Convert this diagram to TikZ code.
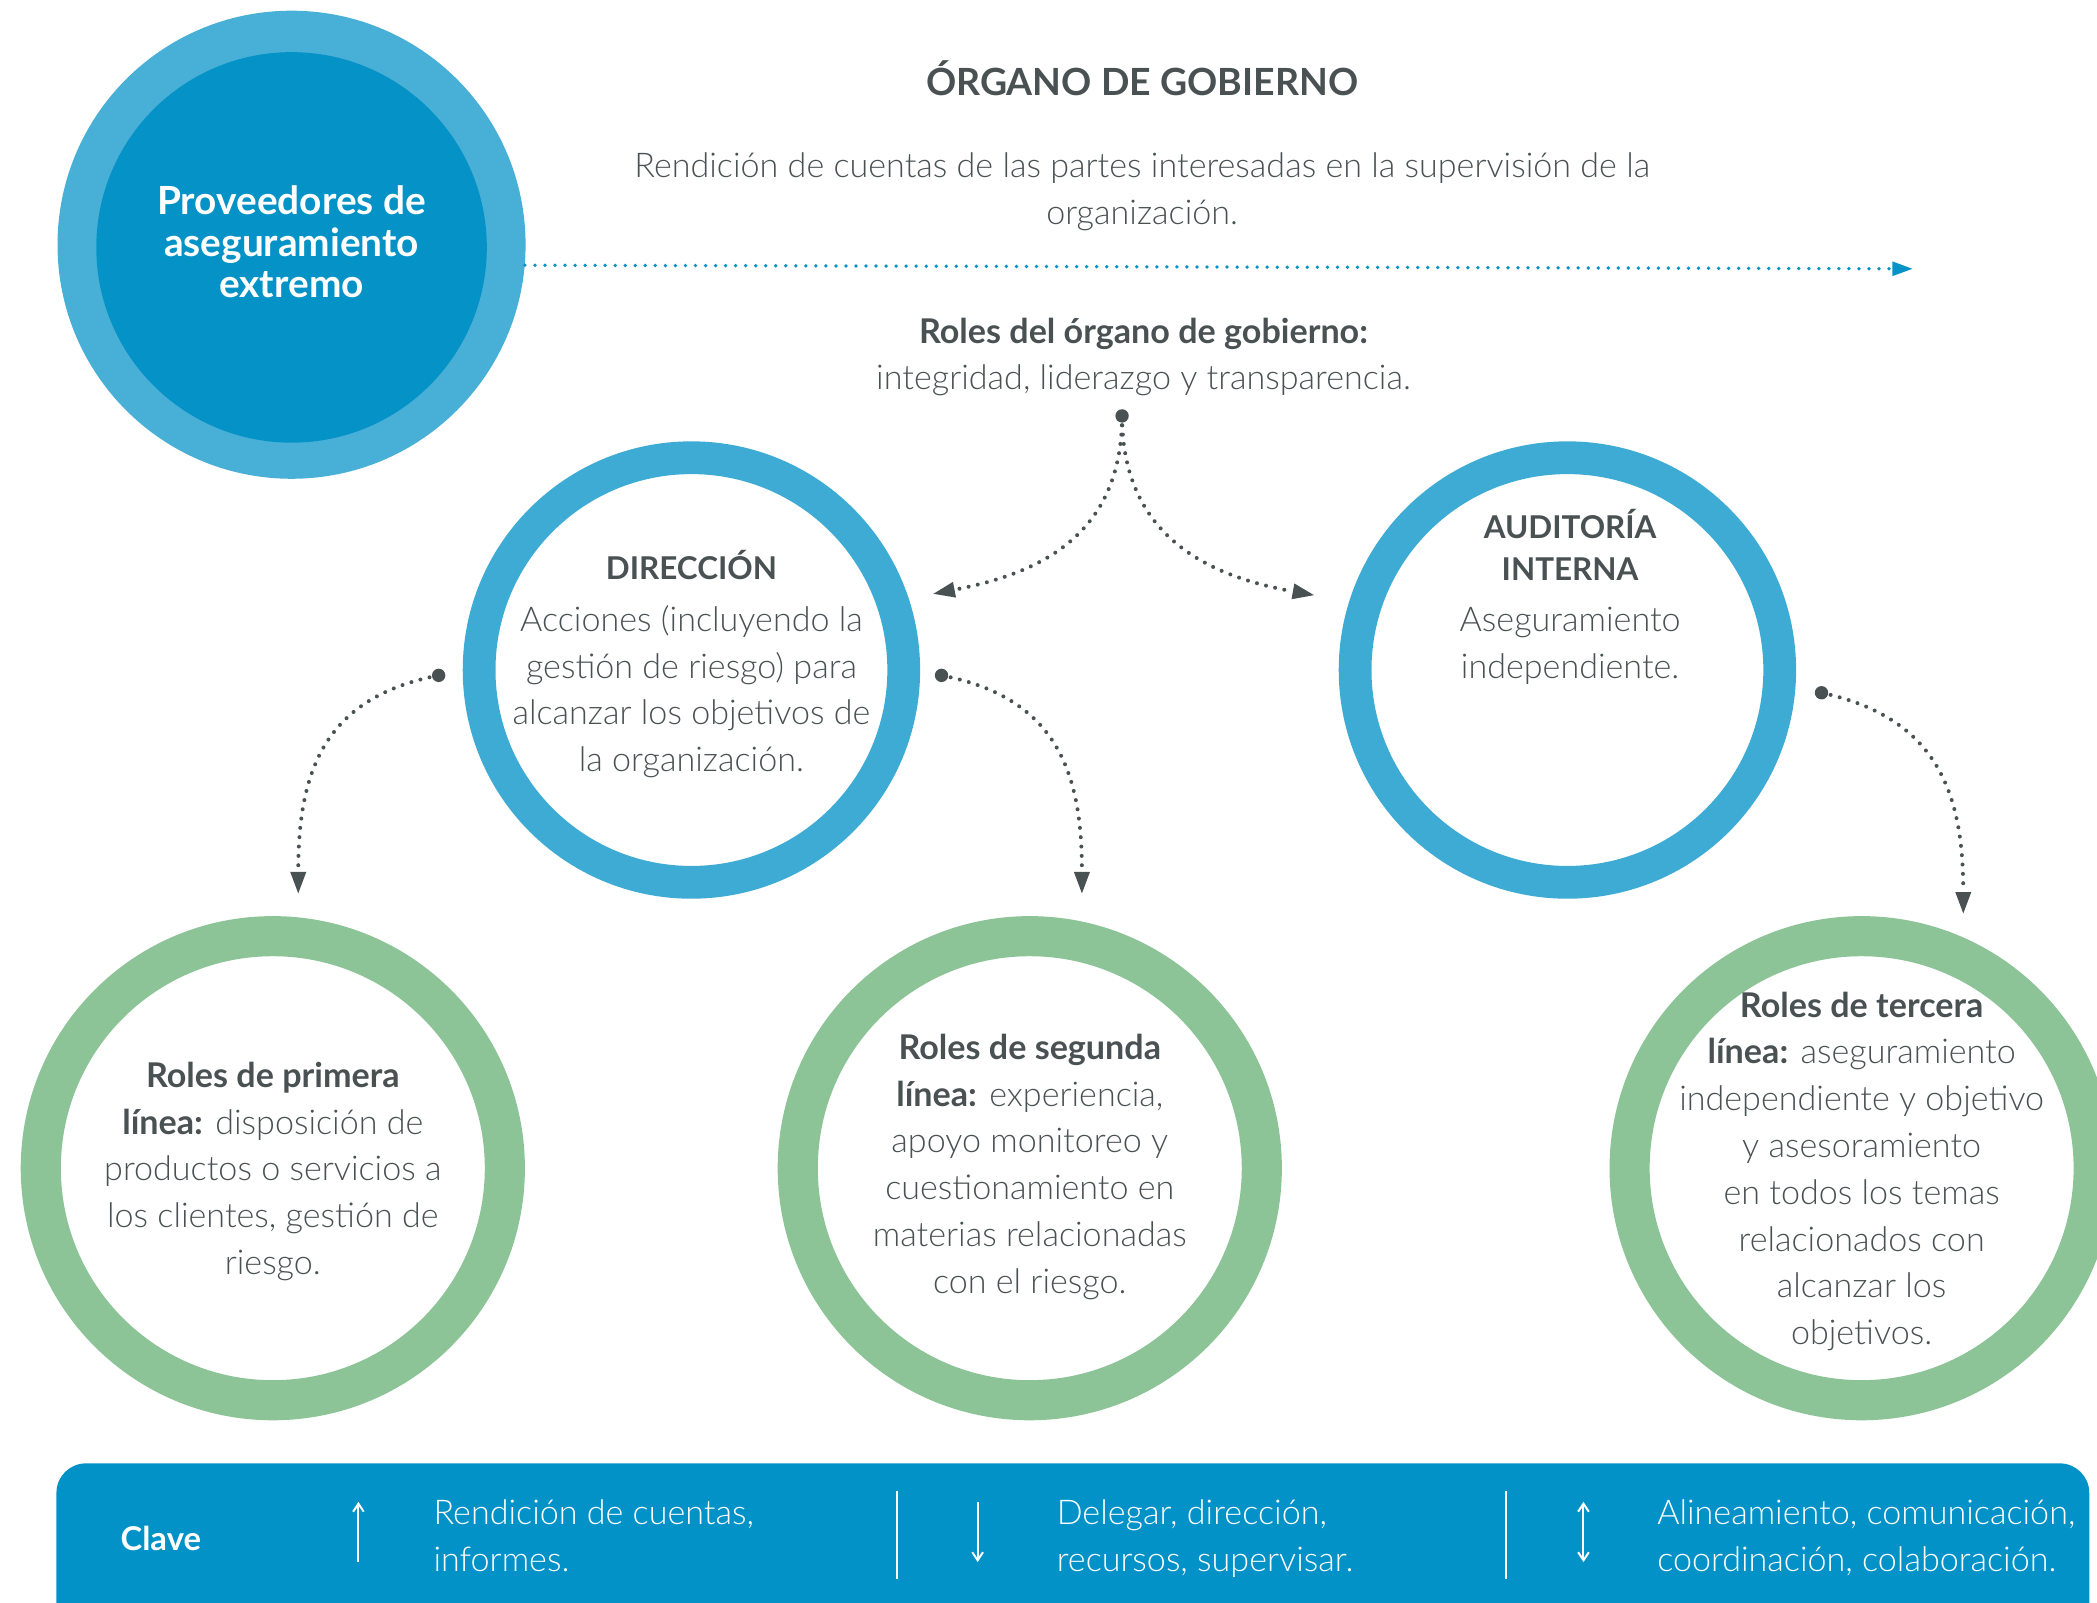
\documentclass[tikz,border=0pt]{standalone}
\usepackage{fontspec}
\setmainfont{Lato}[UprightFont=* Light, BoldFont=* Bold]
\usetikzlibrary{arrows.meta}
\definecolor{dgray}{HTML}{4A5153}
\definecolor{lblue}{HTML}{48AFD6}
\definecolor{dblue}{HTML}{0492C7}
\definecolor{rblue}{HTML}{3DABD4}
\definecolor{rgreen}{HTML}{8CC497}
\definecolor{barblue}{HTML}{0392C8}
\newcommand{\capsb}[1]{{\fontsize{23.5}{35}\selectfont\bfseries #1}}
\begin{document}
\begin{tikzpicture}[x=1pt,y=-1pt,
  txt/.style={text=dgray, font=\fontsize{25.5}{35}\selectfont, align=center, inner sep=0pt},
  bartxt/.style={text=white, font=\fontsize{25.5}{35}\selectfont, align=left, inner sep=0pt, anchor=west},
  ringb/.style={circle, draw=rblue, line width=24.5pt, minimum size=317.5pt, inner sep=0pt},
  ringg/.style={circle, draw=rgreen, line width=30pt, minimum size=347pt, inner sep=0pt},
  dotn/.style={circle, fill=dgray, minimum size=10pt, inner sep=0pt},
  conn/.style={draw=dgray, line width=3pt, line cap=round, dash pattern=on 0pt off 7pt,
     -{Triangle[length=16pt,width=12pt,line width=0pt]}},
  keyarrow/.style={draw=white, line width=1.5pt},
  sepline/.style={draw=white, line width=1.5pt}]
\useasboundingbox (0,0) rectangle (1568,1198);
\clip (0,0) rectangle (1568,1198);

% top-left circle
\node[circle, fill=lblue, minimum size=350pt, inner sep=0pt] (big) at (218,183) {};
\node[circle, fill=dblue, minimum size=292pt, inner sep=0pt, text=white,
      font=\fontsize{29}{30.5}\selectfont\bfseries, align=center] (bigin) at (218,185)
      {\strut Proveedores de\\\strut aseguramiento\\\strut extremo};

% header texts
\node[txt, font=\fontsize{28}{35}\selectfont\bfseries] (title) at (854,64) {\strut ÓRGANO DE GOBIERNO};
\node[txt] (rend) at (854,143.5) {\strut Rendición de cuentas de las partes interesadas en la supervisión de la\\\strut organización.};
\coordinate (lineend) at (1430,201);
\draw[draw=dblue, line width=2.8pt, line cap=round, dash pattern=on 0pt off 7.5pt,
      -{Triangle[length=15pt,width=11pt,fill=dblue,line width=0pt]}] (big.-5.9) -- (lineend);
\node[txt] (roles) at (855,267) {\strut\textbf{Roles del órgano de gobierno:}\\\strut integridad, liderazgo y transparencia.};

% blue rings
\node[ringb] (dir) at (517,501) {};
\node[txt] (dirt) at (517,498) {\strut\capsb{DIRECCIÓN}\\[4pt]\strut Acciones (incluyendo la\\\strut gestión de riesgo) para\\\strut alcanzar los objetivos de\\\strut la organización.};
\node[ringb] (aud) at (1172,501) {};
\node[txt] (audt) at (1174,448) {\strut\capsb{AUDITORÍA}\\[-4pt]\strut\capsb{INTERNA}\\[3pt]\strut Aseguramiento\\\strut independiente.};

% green rings
\node[ringg] (g1) at (204,873.5) {};
\node[txt] (g1t) at (204,876) {\strut\textbf{Roles de primera}\\\strut\textbf{línea:} disposición de\\\strut productos o servicios a\\\strut los clientes, gestión de\\\strut riesgo.};
\node[ringg] (g2) at (770,873.5) {};
\node[txt] (g2t) at (770,872.5) {\strut\textbf{Roles de segunda}\\\strut\textbf{línea:} experiencia,\\\strut apoyo monitoreo y\\\strut cuestionamiento en\\\strut materias relacionadas\\\strut con el riesgo.};
\node[ringg] (g3) at (1392,873.5) {};
\node[txt] (g3t) at (1392,876) {\strut\textbf{Roles de tercera}\\\strut\textbf{línea:} aseguramiento\\\strut independiente y objetivo\\\strut y asesoramiento\\\strut en todos los temas\\\strut relacionados con\\\strut alcanzar los\\\strut objetivos.};

% dotted connectors
\node[dotn] (d0) at (839,311) {};
\coordinate (t0l) at (698,444);
\coordinate (t0r) at (982.5,445);
\draw[conn] (d0.center) .. controls (839,405) and (770,430) .. (t0l);
\draw[conn] (d0.center) .. controls (839,405) and (910,432) .. (t0r);
\node[dotn] (d1) at (328,505) {};
\coordinate (t1) at (223,668);
\draw[conn] (d1.center) .. controls (240,522) and (223,580) .. (t1);
\node[dotn] (d2) at (704,505) {};
\coordinate (t2) at (809,668);
\draw[conn] (d2.center) .. controls (792,522) and (809,580) .. (t2);
\node[dotn] (d3) at (1362,518) {};
\coordinate (t3) at (1468,683);
\draw[conn] (d3.center) .. controls (1450,537) and (1468,595) .. (t3);

% key bar
\node[fill=barblue, rounded corners=22pt, minimum width=1520pt, minimum height=140pt,
      inner sep=0pt, anchor=north west] (bar) at (42,1094) {};
\node[text=white, font=\fontsize{24.5}{35}\selectfont\bfseries, inner sep=0pt, anchor=west] (clave) at (90,1150) {Clave};
\coordinate (k1a) at (268,1168); \coordinate (k1b) at (268,1123);
\draw[keyarrow, -{Straight Barb[length=6pt,width=8pt]}] (k1a) -- (k1b);
\node[bartxt] (k1t) at (324,1150.5) {\strut Rendición de cuentas,\\\strut informes.};
\coordinate (s1a) at (671,1115); \coordinate (s1b) at (671,1181);
\draw[sepline] (s1a) -- (s1b);
\coordinate (k2a) at (731,1123); \coordinate (k2b) at (731,1168);
\draw[keyarrow, -{Straight Barb[length=6pt,width=8pt]}] (k2a) -- (k2b);
\node[bartxt] (k2t) at (790,1150.5) {\strut Delegar, dirección,\\\strut recursos, supervisar.};
\coordinate (s2a) at (1126,1115); \coordinate (s2b) at (1126,1181);
\draw[sepline] (s2a) -- (s2b);
\coordinate (k3a) at (1184,1123); \coordinate (k3b) at (1184,1168);
\draw[keyarrow, {Straight Barb[length=6pt,width=8pt]}-{Straight Barb[length=6pt,width=8pt]}] (k3a) -- (k3b);
\node[bartxt] (k3t) at (1239,1150.5) {\strut Alineamiento, comunicación,\\\strut coordinación, colaboración.};
\end{tikzpicture}
\end{document}
